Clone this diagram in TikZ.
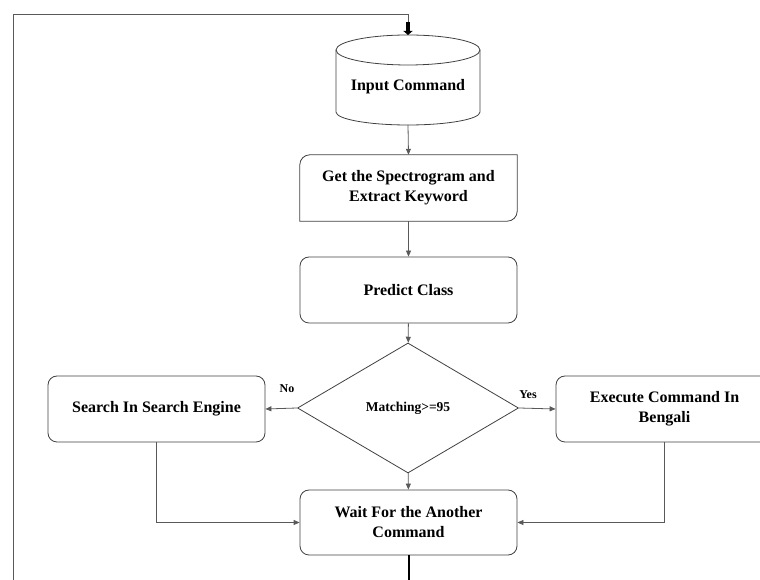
\documentclass[tikz,border=0pt]{standalone}
\usepackage{fontspec}
\setmainfont{Liberation Serif}
\usetikzlibrary{shapes.geometric,arrows.meta}
\begin{document}
\begin{tikzpicture}[x=1pt,y=1pt,
  shapeline/.style={draw=black!75, line width=0.8pt},
  boxtext/.style={align=center, font=\fontsize{16}{20}\selectfont\bfseries, inner sep=2pt},
  box/.style={shapeline, boxtext, rounded corners=9pt, minimum width=217pt, minimum height=66pt},
  plainbox/.style={boxtext, minimum width=217pt, minimum height=66pt},
  conn/.style={draw=black!65, line width=0.8pt, -{Triangle[length=6pt,width=5pt]}},
  lbl/.style={font=\fontsize{12}{14}\selectfont\bfseries, inner sep=1pt}
]
\useasboundingbox (0,0) rectangle (760,580);
\clip (0,0) rectangle (760,580);

% cylinder
\draw[shapeline] (408,530) ellipse [x radius=72, y radius=15];
\draw[shapeline] (336,530) -- (336,468) arc[start angle=180, end angle=360, x radius=72, y radius=13] -- (480,530);
\node[boxtext] (inp) at (408,493) {Input Command};
\coordinate (inT) at (408,545);
\coordinate (inB) at (408,455);

% spectrogram box (two rounded corners)
\node[plainbox] (spec) at (408.5,392) {Get the Spectrogram and\\Extract Keyword};
\draw[shapeline] (spec.south west) -- ([yshift=-10pt]spec.north west)
  arc[start angle=180, end angle=90, radius=10pt] -- (spec.north east)
  -- ([yshift=10pt]spec.south east) arc[start angle=0, end angle=-90, radius=10pt] -- cycle;

\node[box] (pred) at (408.5,290) {Predict Class};
\node[diamond, shapeline, minimum width=221pt, minimum height=130pt, inner sep=0pt,
      font=\fontsize{13.5}{16}\selectfont\bfseries] (match) at (408,172) {Matching>=95};
\node[box] (search) at (156.5,171) {Search In Search Engine};
\node[box] (exec) at (664.5,171) {Execute Command In\\Bengali};
\node[box, minimum height=65pt] (wait) at (408.5,57.5) {Wait For the Another\\Command};

\node[lbl] (no) at (287,191) {No};
\node[lbl] (yes) at (528,185) {Yes};

\coordinate (bot) at (408.5,0);
\coordinate (lp) at (13,0);
\coordinate (tp) at (13,566);

\draw[conn] (inB) -- (spec.north);
\draw[conn] (spec) -- (pred);
\draw[conn] (pred) -- (match);
\draw[conn] (match) -- (wait);
\draw[conn] (match.west) -- (search.east);
\draw[conn] (match.east) -- (exec.west);
\draw[conn] (search.south) |- (wait.west);
\draw[conn] (exec.south) |- (wait.east);
\draw[line width=2pt] (wait.south) -- (bot);
\draw[draw=black!65, line width=0.8pt] (lp) -- (tp) -- (tp -| inT) -- ([yshift=12pt]inT);
\draw[line width=3.5pt, -{Triangle[length=4pt,width=9pt]}] ([yshift=13pt]inT) -- (inT);
\end{tikzpicture}
\end{document}
